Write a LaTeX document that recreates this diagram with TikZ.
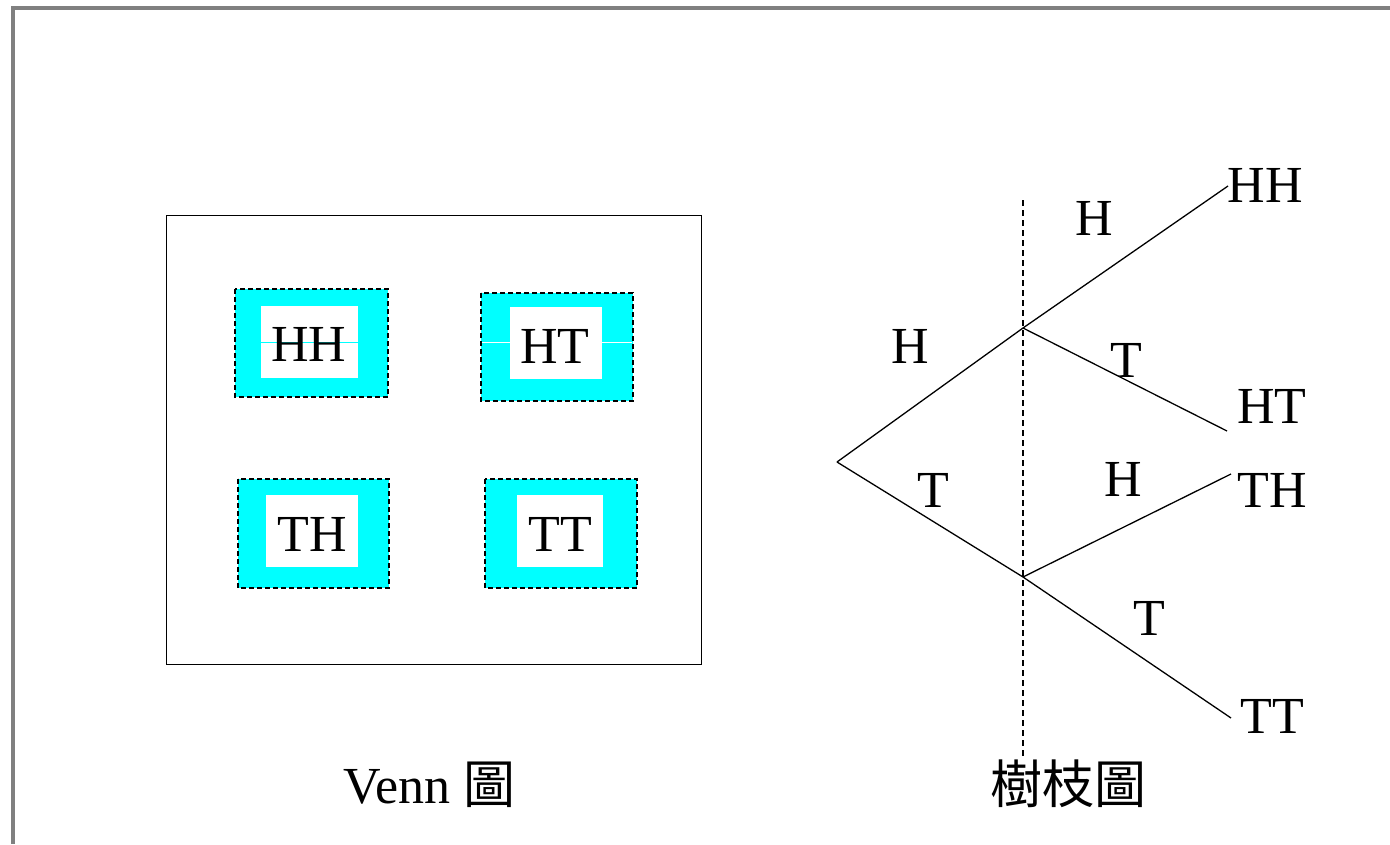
\documentclass[tikz,border=0pt]{standalone}
\usepackage{fontspec}
\setmainfont{Liberation Serif}
\newfontfamily\cjk{Noto Sans CJK TC}
\definecolor{framegray}{RGB}{128,128,128}
\definecolor{boxcyan}{RGB}{0,255,255}
\begin{document}
\begin{tikzpicture}[x=1pt,y=-1pt,
  lbl/.style={anchor=base,inner sep=0pt,font=\fontsize{52}{60}\selectfont},
  cell/.style={fill=boxcyan,draw=black,line width=1.4pt,dash pattern=on 5pt off 3pt},
  hole/.style={fill=white,draw=none},
  branch/.style={draw=black,line width=1.3pt},
  divider/.style={draw=black,line width=1.2pt,dash pattern=on 6pt off 4pt}]
\useasboundingbox (0,0) rectangle (1390,844);
\fill[white] (0,0) rectangle (1390,844);
% slide frame
\draw[framegray,line width=4pt] (11,8) -- (1390,8);
\draw[framegray,line width=4pt] (13,6) -- (13,844);

% Venn diagram: sample space and its four outcomes
\draw[black,line width=0.9pt] (166,215) rectangle (701,664);
\path[cell] (235,289) rectangle (388,397);
\fill[hole] (261,306) rectangle (358,378);
\draw[boxcyan,line width=1pt] (261,342) -- (358,342);
\path[cell] (481,293) rectangle (633,401);
\fill[hole] (510,307) rectangle (602,379);
\draw[white,line width=1pt] (481.7,342) -- (510,342);
\draw[white,line width=1pt] (602,342) -- (632.3,342);
\path[cell] (238,479) rectangle (389,588);
\fill[hole] (266,495) rectangle (358,567);
\path[cell] (485,479) rectangle (637,588);
\fill[hole] (517,495) rectangle (603,567);
\node[lbl] (vHH) at (309,361) {HH};
\node[lbl] (vHT) at (555,363) {HT};
\node[lbl] (vTH) at (312,551) {TH};
\node[lbl] (vTT) at (560,551) {TT};
\node[lbl,anchor=base west] (vcap) at (343,803) {Venn {\cjk 圖}};

% tree diagram
\coordinate (top) at (1023,200);
\coordinate (bottom) at (1023,757);
\draw[divider] (top) -- (bottom);
\coordinate (root) at (837,462);
\coordinate (n1) at (1023,328);
\coordinate (n2) at (1023,577);
\coordinate (eHH) at (1228,186);
\coordinate (eHT) at (1227,431);
\coordinate (eTH) at (1231,474);
\coordinate (eTT) at (1231,718);
\draw[branch] (root) -- (n1);
\draw[branch] (root) -- (n2);
\draw[branch] (n1) -- (eHH);
\draw[branch] (n1) -- (eHT);
\draw[branch] (n2) -- (eTH);
\draw[branch] (n2) -- (eTT);
\node[lbl] (bH1) at (910,363) {H};
\node[lbl] (bT1) at (933,507) {T};
\node[lbl] (bH2) at (1094,235) {H};
\node[lbl] (bT2) at (1126,377) {T};
\node[lbl] (bH3) at (1123,496) {H};
\node[lbl] (bT3) at (1149,635) {T};
\node[lbl] (tHH) at (1265,202) {HH};
\node[lbl] (tHT) at (1272,423) {HT};
\node[lbl] (tTH) at (1272,507) {TH};
\node[lbl] (tTT) at (1272,733) {TT};
\node[lbl,anchor=base west,font=\fontsize{52}{60}\selectfont\cjk] (tcap) at (990,803) {樹枝圖};
\end{tikzpicture}
\end{document}
